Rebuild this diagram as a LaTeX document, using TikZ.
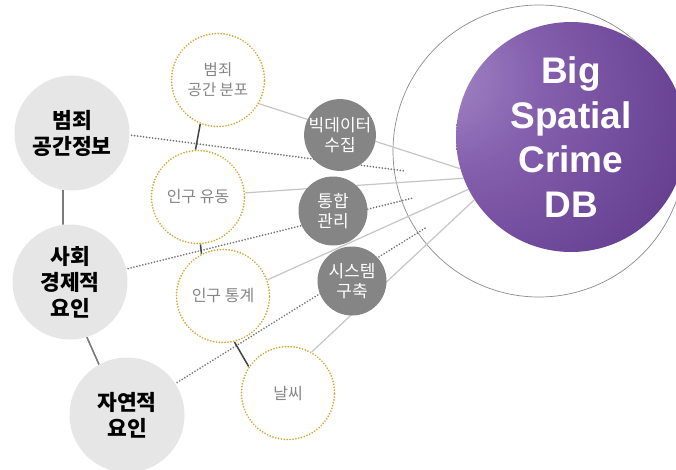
\documentclass[tikz,border=0pt]{standalone}
\usepackage{fontspec}
\setmainfont{Noto Sans CJK KR}
\newfontfamily\dbfont{Liberation Sans}
\pgfdeclarelayer{bg}
\pgfsetlayers{bg,main}
\definecolor{lgray}{HTML}{E6E6E6}
\definecolor{dgray}{HTML}{858585}
\definecolor{gold}{HTML}{D4A730}
\definecolor{ytext}{HTML}{858585}
\definecolor{dotc}{HTML}{747474}
\definecolor{linec}{HTML}{C6C6C6}
\definecolor{conn}{HTML}{444444}
\definecolor{lconn}{HTML}{7A7A7A}
\definecolor{outerc}{HTML}{8C8C8C}
\definecolor{pA}{HTML}{A68CC8}
\definecolor{pB}{HTML}{8560AE}
\definecolor{pC}{HTML}{5F388A}
\definecolor{pD}{HTML}{3C245C}
\pgfdeclareradialshading{purpleball}{\pgfpoint{-32bp}{15bp}}{color(0bp)=(pA); color(18bp)=(pB); color(48bp)=(pC); color(82bp)=(pD)}
\tikzset{
  gbig/.style={circle, fill=lgray, minimum size=115pt, inner sep=0pt, align=center, text=black,
    font=\fontsize{21.5}{26}\selectfont\bfseries},
  ycirc/.style={circle, draw=gold, line width=1.9pt, line cap=round, dash pattern=on 0.01pt off 2.9pt, fill=white,
    minimum size=93pt, inner sep=0pt, align=center, text=ytext, font=\fontsize{16}{20}\selectfont},
  kcirc/.style={circle, fill=dgray, minimum size=69pt, inner sep=0pt, align=center, text=white,
    font=\fontsize{17}{20}\selectfont},
  dbcirc/.style={circle, shading=purpleball, minimum size=230pt, inner sep=0pt, align=center, text=white,
    font=\fontsize{37}{44.5}\selectfont\dbfont\bfseries},
  outercirc/.style={circle, draw=outerc, line width=0.7pt, minimum size=292pt, inner sep=0pt},
  sline/.style={draw=linec, line width=1.2pt},
  dline/.style={draw=dotc, line width=1.9pt, line cap=round, dash pattern=on 0.01pt off 3pt, shorten <=2pt},
  lconnline/.style={draw=lconn, line width=1.6pt},
  yconnline/.style={draw=conn, line width=1.5pt}
}
\begin{document}
\begin{tikzpicture}[x=1pt,y=-1pt]
\useasboundingbox (0,0) rectangle (676,469);
\begin{pgfonlayer}{bg}
\fill[white] (0,0) rectangle (676,469);
\node[outercirc] (outer) at (539,151) {};
\end{pgfonlayer}

\node[gbig] (g1) at (72,133) {범죄\\공간정보};
\node[gbig] (g2) at (70,282) {사회\\경제적\\요인};
\node[gbig] (g3) at (127,415) {자연적\\요인};

\node[ycirc, font=\fontsize{15.5}{20}\selectfont] (y1) at (218,80) {범죄\\공간 분포};
\node[ycirc] (y2) at (198,197) {인구 유동};
\node[ycirc] (y3) at (223,296) {인구 통계};
\node[ycirc] (y4) at (288,393) {날씨};

\node[kcirc] (k1) at (340,135) {빅데이터\\수집};
\node[kcirc] (k2) at (333,211) {통합\\관리};
\node[kcirc] (k3) at (352,281) {시스템\\구축};

\node[dbcirc] (db) at (571,137) {Big\\Spatial\\Crime\\DB};

\coordinate (e1) at (405,171);
\coordinate (e2) at (413,198);
\coordinate (e3) at (427,227);

\begin{pgfonlayer}{bg}
\draw[sline] (y1.-30) -- (db.196);
\draw[sline] (y2.5) -- (db.201);
\draw[sline] (y3.20) -- (db.207);
\draw[sline] (y4.60) -- (db.213);
\draw[dline] (g1.-2) -- (e1);
\draw[dline] (g2.13) -- (e2);
\draw[dline] (g3.33) -- (e3);
\draw[lconnline] (g1.261) -- (g2.97);
\draw[lconnline] (g2.-73) -- (g3.119);
\draw[yconnline] (y1.248) -- (y2.93);
\draw[yconnline] (y2.-87) -- (y3.117);
\draw[yconnline] (y3.-76) -- (y4.146);
\end{pgfonlayer}
\end{tikzpicture}
\end{document}
